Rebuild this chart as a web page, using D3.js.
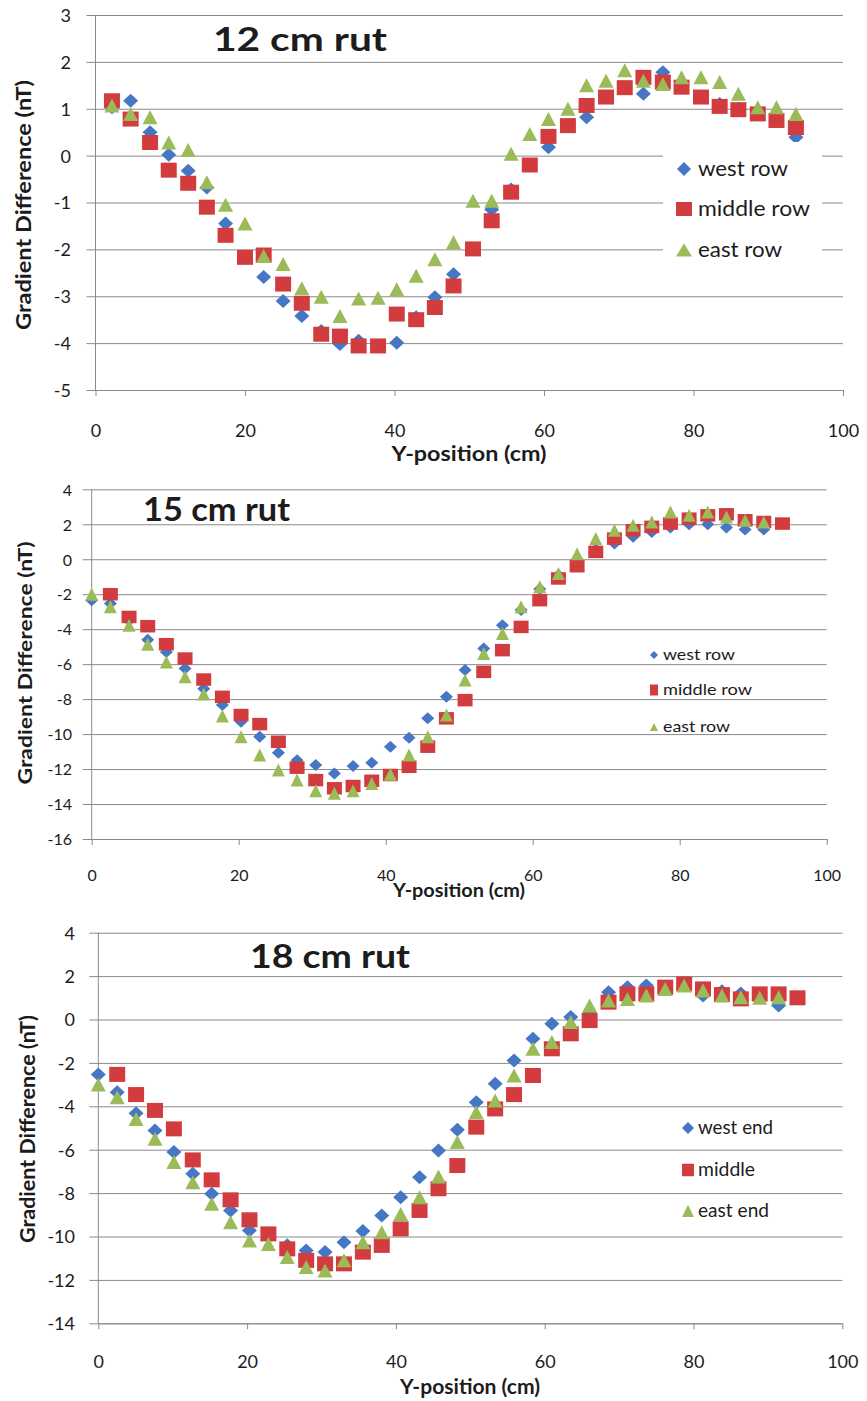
<!DOCTYPE html>
<html><head><meta charset="utf-8">
<script src="https://cdn.jsdelivr.net/npm/d3@7/dist/d3.min.js"></script>
<style>
body{margin:0;background:#fff}
svg{display:block}
text{font-family:Lato,"Open Sans",sans-serif;fill:#1c1c1c}
</style>
</head><body>
<svg id="c" width="867" height="1401"></svg>
<script>
// ---------- DATA ----------
const xTicks = [0, 20, 40, 60, 80, 100];

const titles = ["12 cm rut", "15 cm rut", "18 cm rut"];
const legend12 = ["west row", "middle row", "east row"];
const legend15 = ["west row", "middle row", "east row"];
const legend18 = ["west end", "middle", "east end"];

const yTicks12 = [-5, -4, -3, -2, -1, 0, 1, 2, 3];
const yTicks15 = [-16, -14, -12, -10, -8, -6, -4, -2, 0, 2, 4];
const yTicks18 = [-14, -12, -10, -8, -6, -4, -2, 0, 2, 4];

const xPos12 = [2.2, 4.7, 7.3, 9.8, 12.4, 14.9, 17.4, 20.0, 22.5, 25.1, 27.6, 30.2, 32.7, 35.2, 37.8, 40.3, 42.9, 45.4, 47.9, 50.5, 53.0, 55.6, 58.1, 60.6, 63.2, 65.7, 68.3, 70.8, 73.3, 75.9, 78.4, 81.0, 83.5, 86.0, 88.6, 91.1, 93.7];
const west12 = [1.03, 1.17, 0.50, 0.02, -0.32, -0.68, -1.45, -2.15, -2.59, -3.10, -3.42, -3.74, -4.02, -3.95, -4.05, -3.99, -3.45, -3.02, -2.53, -2.00, -1.15, -0.72, -0.20, 0.18, 0.65, 0.82, 1.25, 1.45, 1.32, 1.78, 1.50, 1.25, 1.10, 1.00, 0.90, 0.80, 0.39];
const middle12 = [1.17, 0.78, 0.28, -0.31, -0.59, -1.10, -1.70, -2.17, -2.12, -2.74, -3.15, -3.81, -3.85, -4.06, -4.06, -3.38, -3.50, -3.24, -2.78, -1.99, -1.39, -0.78, -0.20, 0.41, 0.64, 1.07, 1.25, 1.45, 1.67, 1.57, 1.46, 1.25, 1.05, 0.98, 0.89, 0.75, 0.60];
const east12 = [1.07, 0.89, 0.82, 0.28, 0.12, -0.57, -1.05, -1.45, -2.14, -2.31, -2.83, -3.01, -3.42, -3.05, -3.03, -2.85, -2.56, -2.21, -1.85, -0.96, -0.96, 0.04, 0.46, 0.78, 1.00, 1.50, 1.60, 1.82, 1.60, 1.53, 1.67, 1.67, 1.57, 1.32, 1.03, 1.03, 0.89];

const xPos15 = [0, 2.54, 5.08, 7.62, 10.16, 12.70, 15.24, 17.78, 20.32, 22.86, 25.40, 27.94, 30.48, 33.02, 35.56, 38.10, 40.64, 43.18, 45.72, 48.26, 50.80, 53.34, 55.88, 58.42, 60.96, 63.50, 66.04, 68.58, 71.12, 73.66, 76.20, 78.74, 81.28, 83.82, 86.36, 88.90, 91.44, 93.98];
const west15 = [-2.34, -2.53, -3.50, -4.60, -5.30, -6.25, -7.40, -8.34, -9.30, -10.15, -11.07, -11.49, -11.77, -12.25, -11.83, -11.64, -10.72, -10.21, -9.10, -7.87, -6.34, -5.10, -3.77, -2.91, -1.70, -0.90, 0.00, 0.55, 0.90, 1.28, 1.56, 1.81, 2.00, 2.00, 1.81, 1.70, 1.70, null];
const middle15 = [null, -2.00, -3.30, -3.83, -4.86, -5.68, -6.88, -7.87, -8.91, -9.43, -10.44, -11.92, -12.63, -13.10, -12.97, -12.67, -12.34, -11.87, -10.72, -9.10, -8.06, -6.44, -5.20, -3.87, -2.34, -1.10, -0.40, 0.42, 1.18, 1.66, 1.85, 2.04, 2.32, 2.51, 2.57, 2.23, 2.13, 2.04];
const east15 = [-2.00, -2.72, -3.77, -4.86, -5.87, -6.72, -7.71, -8.97, -10.15, -11.20, -12.06, -12.63, -13.24, -13.39, -13.24, -12.82, -12.29, -11.20, -10.15, -8.91, -6.91, -5.39, -4.25, -2.72, -1.58, -0.82, 0.32, 1.18, 1.66, 1.94, 2.13, 2.70, 2.51, 2.70, 2.42, 2.23, 2.13, null];

const xPos18 = [0, 2.54, 5.08, 7.62, 10.16, 12.70, 15.24, 17.78, 20.32, 22.86, 25.40, 27.94, 30.48, 33.02, 35.56, 38.10, 40.64, 43.18, 45.72, 48.26, 50.80, 53.34, 55.88, 58.42, 60.96, 63.50, 66.04, 68.58, 71.12, 73.66, 76.20, 78.74, 81.28, 83.82, 86.36, 88.90, 91.44, 93.98];
const west18 = [-2.53, -3.35, -4.32, -5.12, -6.11, -7.11, -8.03, -8.80, -9.72, -9.95, -10.40, -10.65, -10.72, -10.26, -9.75, -9.03, -8.19, -7.27, -6.04, -5.08, -3.81, -2.96, -1.89, -0.89, -0.20, 0.11, 0.30, 1.26, 1.49, 1.57, 1.45, 1.60, 1.11, 1.30, 1.20, 1.10, 0.65, null];
const middle18 = [null, -2.53, -3.46, -4.19, -5.04, -6.47, -7.39, -8.31, -9.23, -9.88, -10.57, -11.10, -11.26, -11.26, -10.72, -10.41, -9.65, -8.80, -7.80, -6.73, -4.96, -4.12, -3.46, -2.58, -1.35, -0.66, -0.05, 0.80, 1.18, 1.18, 1.49, 1.64, 1.41, 1.15, 0.95, 1.18, 1.18, 1.00];
const east18 = [-3.00, -3.58, -4.58, -5.50, -6.57, -7.50, -8.49, -9.34, -10.18, -10.34, -10.95, -11.41, -11.57, -11.10, -10.26, -9.80, -8.96, -8.19, -7.23, -5.65, -4.27, -3.73, -2.58, -1.35, -1.04, -0.12, 0.65, 0.88, 0.95, 1.11, 1.41, 1.57, 1.34, 1.11, 1.03, 1.00, 1.03, null];

// ---------- STYLE ----------
const COLORS = ["#4677C4", "#D23C3F", "#9BBB59"];
const SHAPES = ["diamond", "square", "triangle"];
const GRID = "#8a8a8a";
const fmt = d => String(d);   // plain hyphen-minus like the original

const svg = d3.select("#c");

function shapePath(shape, w, h) {
  if (shape === "diamond") return `M0,${-h/2}L${w/2},0L0,${h/2}L${-w/2},0Z`;
  if (shape === "square") return `M${-w/2},${-h/2}H${w/2}V${h/2}H${-w/2}Z`;
  return `M0,${-h/2}L${w/2},${h/2}L${-w/2},${h/2}Z`;
}

function panel(cfg) {
  const x = d3.scaleLinear().domain([0, 100]).range([cfg.x0, cfg.x1]);
  const y = d3.scaleLinear().domain([cfg.yTicks[0], cfg.yTicks[cfg.yTicks.length - 1]]).range([cfg.yB, cfg.yT]);
  const g = svg.append("g");

  const yAx = d3.axisLeft(y).tickValues(cfg.yTicks).tickSize(cfg.x1 - cfg.x0 + 9).tickPadding(cfg.x0 - 9 - cfg.yLabelRight).tickFormat(fmt);
  const ga = g.append("g").attr("transform", `translate(${cfg.x1},0)`).call(yAx);
  ga.select(".domain").remove();
  ga.selectAll(".tick line").attr("stroke", GRID).attr("stroke-width", 1);
  ga.selectAll(".tick text").attr("font-size", cfg.tickFont).attr("font-family", "Lato").attr("fill", "#2a2a2a").attr("dy", "0.36em");

  g.append("line").attr("x1", cfg.x0).attr("x2", cfg.x0).attr("y1", cfg.yT).attr("y2", cfg.yB).attr("stroke", GRID);

  const xAx = d3.axisBottom(x).tickValues(xTicks).tickSize(6).tickSizeOuter(0).tickFormat(fmt);
  const gx = g.append("g").attr("transform", `translate(0,${cfg.yB})`).call(xAx);
  gx.select(".domain").attr("stroke", GRID);
  gx.selectAll(".tick line").attr("stroke", GRID);
  gx.selectAll(".tick text").attr("font-size", cfg.tickFont).attr("font-family", "Lato").attr("fill", "#2a2a2a")
    .attr("dy", null).attr("y", cfg.xLabelBase - cfg.yB);

  g.append("text").attr("x", (cfg.xTitleCx)).attr("y", cfg.xTitleBase).attr("text-anchor", "middle")
    .attr("font-weight", "bold").attr("font-size", cfg.axisTitleFont)
    .attr("textLength", cfg.xTitleLen).attr("lengthAdjust", "spacingAndGlyphs").text("Y-position (cm)");
  g.append("text").attr("transform", `translate(${cfg.yTitleBaseX},${cfg.yTitleCy}) rotate(-90)`).attr("text-anchor", "middle")
    .attr("font-weight", "bold").attr("font-size", cfg.axisTitleFont)
    .attr("textLength", cfg.yTitleLen).attr("lengthAdjust", "spacingAndGlyphs").text("Gradient Difference (nT)");

  cfg.series.forEach((vals, si) => {
    const pts = vals.map((v, i) => ({ x: cfg.xs[i], v })).filter(d => d.v !== null);
    const ms = cfg.markers[si];
    g.append("g").selectAll("path").data(pts).join("path")
      .attr("transform", d => `translate(${x(d.x)},${y(d.v)})`)
      .attr("d", shapePath(SHAPES[si], ms[0], ms[1]))
      .attr("fill", COLORS[si]);
  });

  g.append("text").attr("x", cfg.titleX).attr("y", cfg.titleBase).attr("font-weight", "bold")
    .attr("font-size", cfg.titleFont).attr("fill", "#000")
    .attr("textLength", cfg.titleLen).attr("lengthAdjust", "spacingAndGlyphs").text(cfg.title);

  const L = cfg.legend;
  if (L.bg) g.append("rect").attr("x", L.bg[0]).attr("y", L.bg[1]).attr("width", L.bg[2]).attr("height", L.bg[3]).attr("fill", "#fff");
  cfg.legendLabels.forEach((lab, i) => {
    const ms = L.markers[i];
    g.append("path").attr("transform", `translate(${L.mx},${L.base[i] - L.mOff})`)
      .attr("d", shapePath(SHAPES[i], ms[0], ms[1])).attr("fill", COLORS[i]);
    g.append("text").attr("x", L.tx).attr("y", L.base[i]).attr("font-size", L.font).attr("fill", "#1c1c1c")
      .attr("textLength", L.lens[i]).attr("lengthAdjust", "spacingAndGlyphs").text(lab);
  });
}

panel({
  x0: 95.5, x1: 843, yT: 15, yB: 390, yTicks: yTicks12, yLabelRight: 71, tickFont: 18,
  xLabelBase: 437, xTitleCx: 469, xTitleBase: 461, xTitleLen: 155, axisTitleFont: 21,
  yTitleBaseX: 31, yTitleCy: 205, yTitleLen: 250,
  xs: xPos12, series: [west12, middle12, east12],
  markers: [[15, 14], [16, 15], [15, 14]],
  title: titles[0], titleX: 213, titleBase: 51, titleFont: 33, titleLen: 174,
  legendLabels: legend12,
  legend: { bg: [663, 142, 159, 130], mx: 684, tx: 698, base: [176, 216, 257], mOff: 7, font: 21, lens: [90, 112, 84],
            markers: [[14, 14], [16, 14], [16, 13]] }
});

panel({
  x0: 91.7, x1: 826.7, yT: 489.3, yB: 839, yTicks: yTicks15, yLabelRight: 72, tickFont: 16,
  xLabelBase: 881, xTitleCx: 459, xTitleBase: 897, xTitleLen: 132, axisTitleFont: 19,
  yTitleBaseX: 32, yTitleCy: 663, yTitleLen: 243,
  xs: xPos15, series: [west15, middle15, east15],
  markers: [[13, 12], [15, 12.5], [13, 13]],
  title: titles[1], titleX: 143, titleBase: 521, titleFont: 32, titleLen: 147,
  legendLabels: legend15,
  legend: { bg: null, mx: 654, tx: 663, base: [660, 695, 732], mOff: 5, font: 15, lens: [72, 89, 67],
            markers: [[8, 8], [8, 11], [8, 8]] }
});

panel({
  x0: 98.3, x1: 842.3, yT: 932.7, yB: 1323.3, yTicks: yTicks18, yLabelRight: 75, tickFont: 18,
  xLabelBase: 1368, xTitleCx: 470, xTitleBase: 1394, xTitleLen: 140, axisTitleFont: 20,
  yTitleBaseX: 35, yTitleCy: 1129, yTitleLen: 228,
  xs: xPos18, series: [west18, middle18, east18],
  markers: [[15, 14], [16, 15], [15, 14]],
  title: titles[2], titleX: 250, titleBase: 968, titleFont: 32, titleLen: 160,
  legendLabels: legend18,
  legend: { bg: null, mx: 688, tx: 698, base: [1134, 1176, 1217], mOff: 6, font: 19, lens: [75, 57, 71],
            markers: [[12, 12], [12, 12.5], [12, 12]] }
});
</script>
</body></html>
